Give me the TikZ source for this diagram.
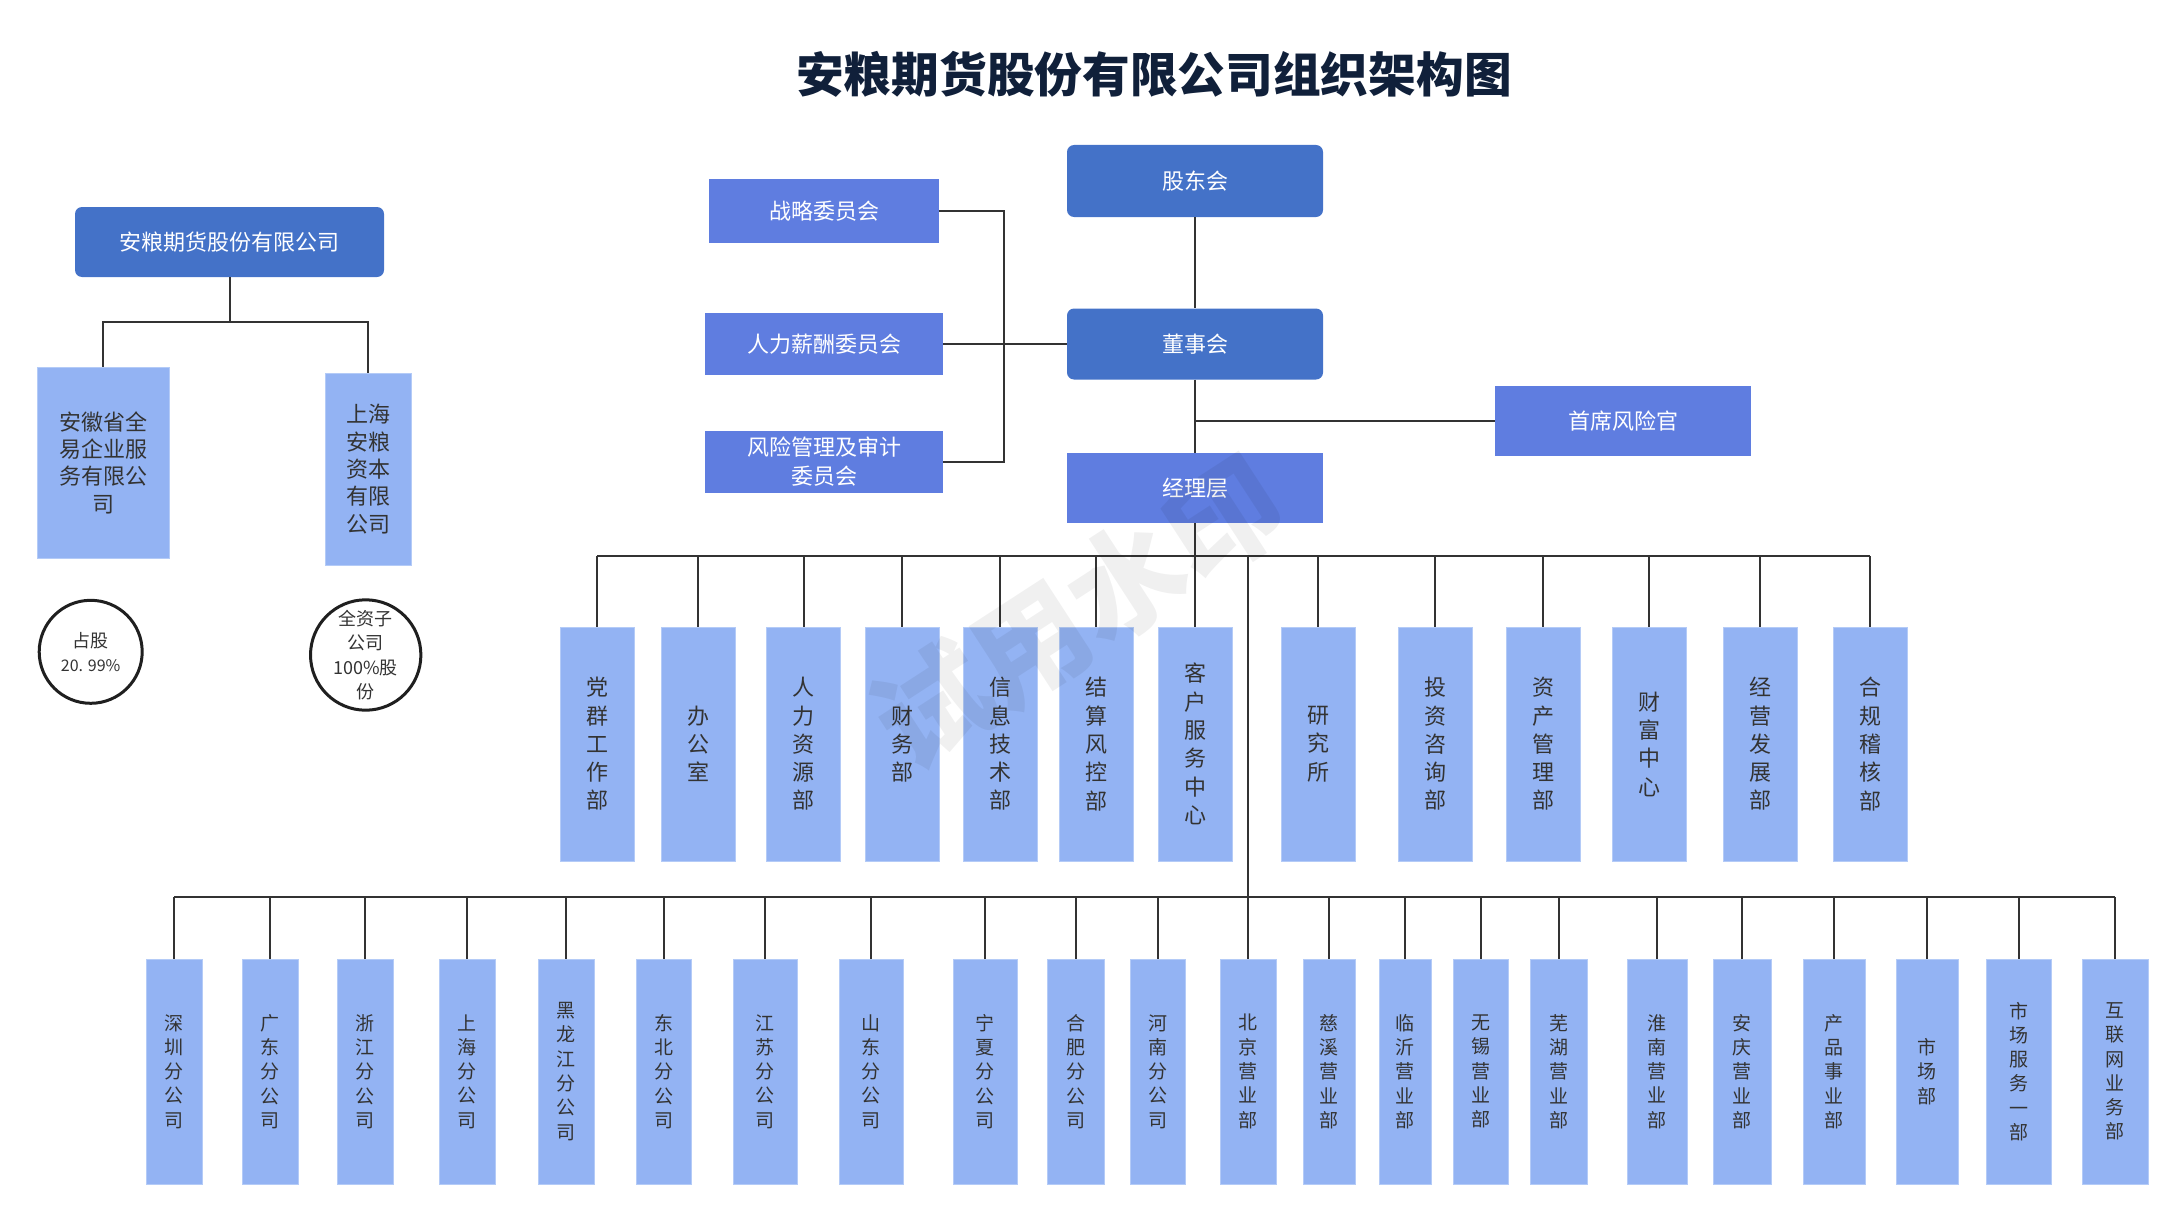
\documentclass[tikz,border=0pt]{standalone}
\usepackage{fontspec}
\setmainfont{Noto Sans CJK SC}
\usepackage{xcolor}
\usepackage{tikz}

\definecolor{boardblue}{HTML}{4472C8}
\definecolor{cmteblue}{HTML}{5F7DE0}
\definecolor{deptblue}{HTML}{93B3F3}
\definecolor{deptedge}{HTML}{B4CBF7}
\definecolor{titlenavy}{HTML}{10203A}
\definecolor{linegray}{HTML}{333333}
\definecolor{textgray}{HTML}{333333}

\begin{document}
\begin{tikzpicture}[x=1pt, y=-1pt,
  boardbox/.style={fill=boardblue, rounded corners=7pt, text=white, inner sep=0pt, align=center, font=\fontsize{22}{28}\selectfont},
  cmtebox/.style={fill=cmteblue, text=white, inner sep=0pt, align=center, font=\fontsize{22}{29}\selectfont},
  deptbox/.style={fill=deptblue, draw=deptedge, line width=1pt, text=textgray, inner sep=0pt, align=center, minimum width=74pt, minimum height=234pt, font=\fontsize{22}{28.3}\selectfont},
  branchbox/.style={fill=deptblue, draw=deptedge, line width=1pt, text=textgray, inner sep=0pt, align=center, minimum height=225pt, font=\fontsize{19}{24.3}\selectfont},
  subbox/.style={fill=deptblue, draw=deptedge, line width=1pt, text=textgray, inner sep=0pt, align=center, font=\fontsize{22}{27.3}\selectfont},
  sharecircle/.style={circle, draw=black!88, line width=3pt, minimum size=103pt, inner sep=0pt, align=center, text=textgray, font=\fontsize{18}{24.5}\selectfont},
  conn/.style={draw=linegray, line width=2pt}]

\useasboundingbox (0,0) rectangle (2184,1220);

\node[text=titlenavy, font=\fontsize{47.7}{57}\selectfont\bfseries] (title) at (1154,74) {安粮期货股份有限公司组织架构图};

\node[boardbox, minimum width=309pt, minimum height=70pt] (comp) at (229.5,242) {安粮期货股份有限公司};
\node[subbox, minimum width=132pt, minimum height=191pt] (sub1) at (103,462.5) {安徽省全\\易企业服\\务有限公\\司};
\node[subbox, minimum width=86pt, minimum height=192pt] (sub2) at (368,469) {上海\\安粮\\资本\\有限\\公司};
\node[sharecircle] (pct1) at (90.7,651.8) {占股\\{\fontsize{16}{20}\selectfont 20. 99\%}};
\node[sharecircle, font=\fontsize{18}{24.3}\selectfont] (pct2) at (365.7,655) {全资子\\公司\\100\%股\\份};

\node[boardbox, minimum width=256pt, minimum height=72pt] (gdh) at (1195,181) {股东会};
\node[boardbox, minimum width=256pt, minimum height=71pt] (dsh) at (1195,344) {董事会};
\node[cmtebox, minimum width=256pt, minimum height=70pt] (jlc) at (1195,488) {经理层};
\node[cmtebox, minimum width=256pt, minimum height=70pt] (sxf) at (1623,421) {首席风险官};
\node[cmtebox, minimum width=230pt, minimum height=64pt] (zlw) at (824,211) {战略委员会};
\node[cmtebox, minimum width=238pt, minimum height=62pt] (rlw) at (824,344) {人力薪酬委员会};
\node[cmtebox, minimum width=238pt, minimum height=62pt] (fxw) at (824,462) {风险管理及审计\\委员会};

\node[deptbox] (d1) at (597,744) {党\\群\\工\\作\\部};
\node[deptbox] (d2) at (698,744) {办\\公\\室};
\node[deptbox] (d3) at (803.5,744) {人\\力\\资\\源\\部};
\node[deptbox] (d4) at (902,744) {财\\务\\部};
\node[deptbox] (d5) at (1000,744) {信\\息\\技\\术\\部};
\node[deptbox] (d6) at (1096,744) {结\\算\\风\\控\\部};
\node[deptbox] (d7) at (1195,744) {客\\户\\服\\务\\中\\心};
\node[deptbox] (d8) at (1318,744) {研\\究\\所};
\node[deptbox] (d9) at (1435,744) {投\\资\\咨\\询\\部};
\node[deptbox] (d10) at (1543,744) {资\\产\\管\\理\\部};
\node[deptbox] (d11) at (1649,744) {财\\富\\中\\心};
\node[deptbox] (d12) at (1760,744) {经\\营\\发\\展\\部};
\node[deptbox] (d13) at (1870,744) {合\\规\\稽\\核\\部};

\node[branchbox, minimum width=56pt] (b1) at (174,1071.5) {深\\圳\\分\\公\\司};
\node[branchbox, minimum width=56pt] (b2) at (270,1071.5) {广\\东\\分\\公\\司};
\node[branchbox, minimum width=56pt] (b3) at (365,1071.5) {浙\\江\\分\\公\\司};
\node[branchbox, minimum width=56pt] (b4) at (467,1071.5) {上\\海\\分\\公\\司};
\node[branchbox, minimum width=56pt] (b5) at (566,1071.5) {黑\\龙\\江\\分\\公\\司};
\node[branchbox, minimum width=55pt] (b6) at (663.5,1071.5) {东\\北\\分\\公\\司};
\node[branchbox, minimum width=64pt] (b7) at (765,1071.5) {江\\苏\\分\\公\\司};
\node[branchbox, minimum width=64pt] (b8) at (871,1071.5) {山\\东\\分\\公\\司};
\node[branchbox, minimum width=64pt] (b9) at (985,1071.5) {宁\\夏\\分\\公\\司};
\node[branchbox, minimum width=57pt] (b10) at (1076,1071.5) {合\\肥\\分\\公\\司};
\node[branchbox, minimum width=55pt] (b11) at (1157.5,1071.5) {河\\南\\分\\公\\司};
\node[branchbox, minimum width=56pt] (b12) at (1248,1071.5) {北\\京\\营\\业\\部};
\node[branchbox, minimum width=52pt] (b13) at (1329,1071.5) {慈\\溪\\营\\业\\部};
\node[branchbox, minimum width=52pt] (b14) at (1405,1071.5) {临\\沂\\营\\业\\部};
\node[branchbox, minimum width=55pt] (b15) at (1480.5,1071.5) {无\\锡\\营\\业\\部};
\node[branchbox, minimum width=57pt] (b16) at (1558.5,1071.5) {芜\\湖\\营\\业\\部};
\node[branchbox, minimum width=60pt] (b17) at (1657,1071.5) {淮\\南\\营\\业\\部};
\node[branchbox, minimum width=58pt] (b18) at (1742,1071.5) {安\\庆\\营\\业\\部};
\node[branchbox, minimum width=62pt] (b19) at (1834,1071.5) {产\\品\\事\\业\\部};
\node[branchbox, minimum width=62pt] (b20) at (1927,1071.5) {市\\场\\部};
\node[branchbox, minimum width=65pt] (b21) at (2018.5,1071.5) {市\\场\\服\\务\\一\\部};
\node[branchbox, minimum width=66pt] (b22) at (2115,1071.5) {互\\联\\网\\业\\务\\部};

\coordinate (cbus) at (0,322);
\coordinate (wbus) at (1004,0);
\coordinate (dbus) at (0,556);
\coordinate (bbus) at (0,897);

\draw [conn] (comp.south) -- (comp.south |- cbus) -| (sub1.north);
\draw [conn] (comp.south |- cbus) -| (sub2.north);

\draw [conn] (zlw.east) -| (wbus |- fxw.east) -- (fxw.east);
\draw [conn] (rlw.east) -- (dsh.west);
\draw [conn] (gdh.south) -- (dsh.north);
\draw [conn] (dsh.south) -- (jlc.north);
\draw [conn] (dsh.south |- sxf.west) -- (sxf.west);

\draw [conn] (d1.north |- dbus) -- (d13.north |- dbus);
\draw [conn] (jlc.south) -- (d7.north);
\draw [conn] (d1.north) -- (d1.north |- dbus);
\draw [conn] (d2.north) -- (d2.north |- dbus);
\draw [conn] (d3.north) -- (d3.north |- dbus);
\draw [conn] (d4.north) -- (d4.north |- dbus);
\draw [conn] (d5.north) -- (d5.north |- dbus);
\draw [conn] (d6.north) -- (d6.north |- dbus);
\draw [conn] (d8.north) -- (d8.north |- dbus);
\draw [conn] (d9.north) -- (d9.north |- dbus);
\draw [conn] (d10.north) -- (d10.north |- dbus);
\draw [conn] (d11.north) -- (d11.north |- dbus);
\draw [conn] (d12.north) -- (d12.north |- dbus);
\draw [conn] (d13.north) -- (d13.north |- dbus);

\draw [conn] (b1.north |- bbus) -- (b22.north |- bbus);
\draw [conn] (b12.north |- dbus) -- (b12.north);
\draw [conn] (b1.north) -- (b1.north |- bbus);
\draw [conn] (b2.north) -- (b2.north |- bbus);
\draw [conn] (b3.north) -- (b3.north |- bbus);
\draw [conn] (b4.north) -- (b4.north |- bbus);
\draw [conn] (b5.north) -- (b5.north |- bbus);
\draw [conn] (b6.north) -- (b6.north |- bbus);
\draw [conn] (b7.north) -- (b7.north |- bbus);
\draw [conn] (b8.north) -- (b8.north |- bbus);
\draw [conn] (b9.north) -- (b9.north |- bbus);
\draw [conn] (b10.north) -- (b10.north |- bbus);
\draw [conn] (b11.north) -- (b11.north |- bbus);
\draw [conn] (b13.north) -- (b13.north |- bbus);
\draw [conn] (b14.north) -- (b14.north |- bbus);
\draw [conn] (b15.north) -- (b15.north |- bbus);
\draw [conn] (b16.north) -- (b16.north |- bbus);
\draw [conn] (b17.north) -- (b17.north |- bbus);
\draw [conn] (b18.north) -- (b18.north |- bbus);
\draw [conn] (b19.north) -- (b19.north |- bbus);
\draw [conn] (b20.north) -- (b20.north |- bbus);
\draw [conn] (b21.north) -- (b21.north |- bbus);
\draw [conn] (b22.north) -- (b22.north |- bbus);

\node[rotate=33, text=black, text opacity=0.06, font=\fontsize{115}{120}\selectfont\bfseries] (mark) at (1078,612) {试用水印};

\end{tikzpicture}
\end{document}
